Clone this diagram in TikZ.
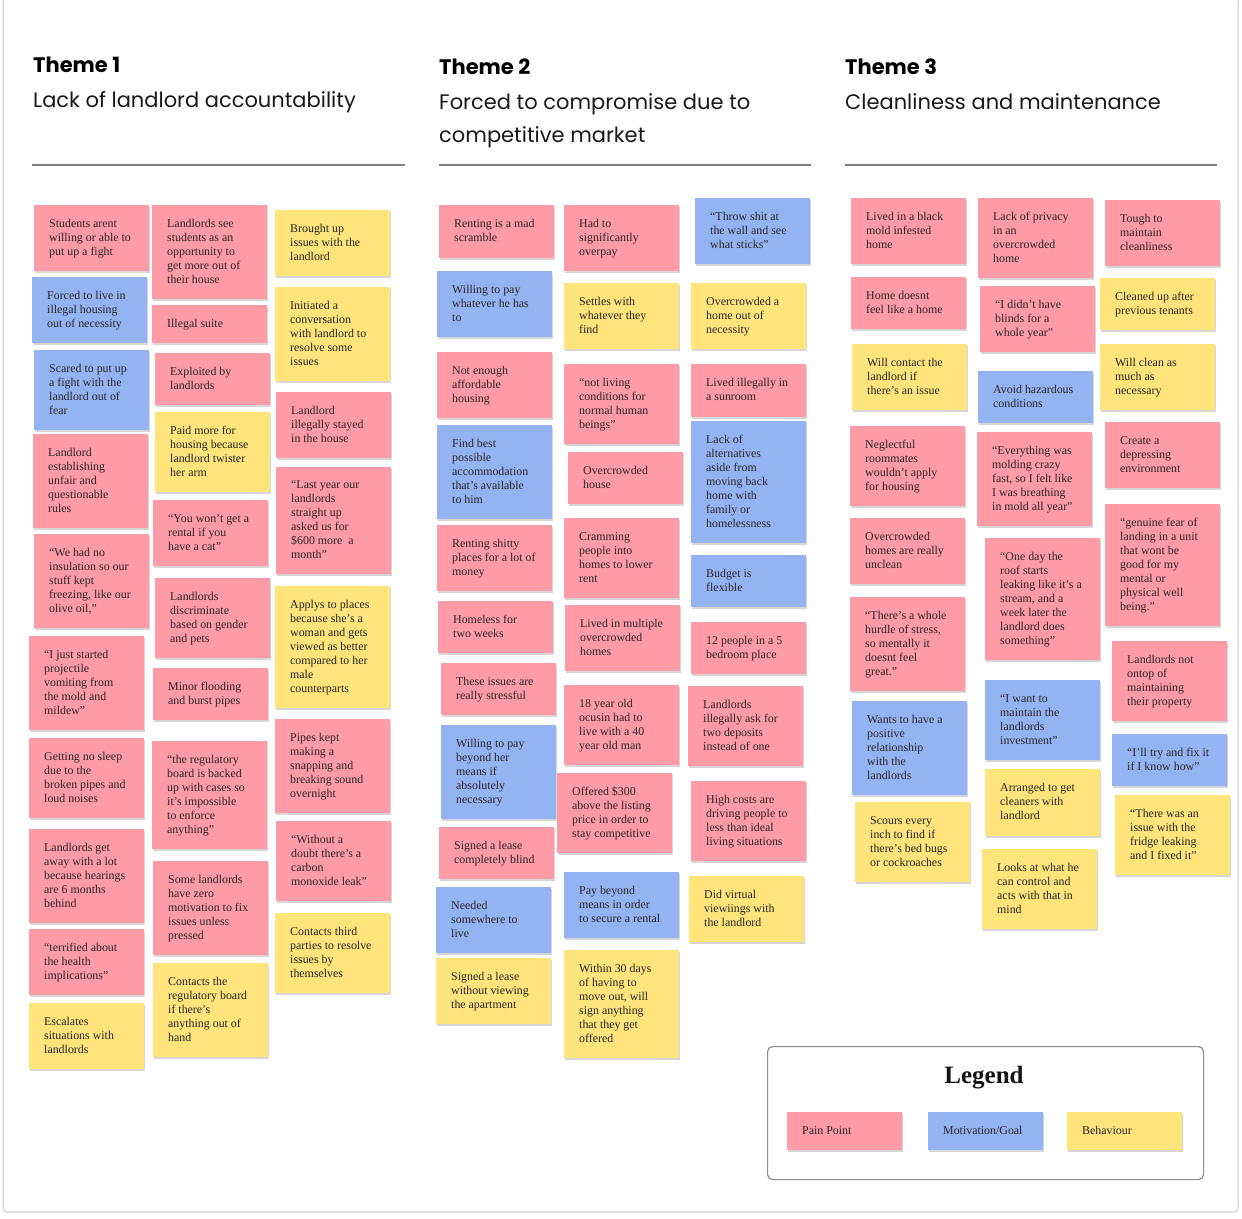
\documentclass[tikz,border=0pt]{standalone}
\usepackage{fontspec}
\setmainfont{Liberation Serif}
\newfontfamily\headfont{Poppins}
\usetikzlibrary{shadows}
\definecolor{pinkn}{HTML}{FF9AA7}
\definecolor{bluen}{HTML}{93B3F3}
\definecolor{yellown}{HTML}{FFE47B}
\definecolor{inkn}{HTML}{262626}
\definecolor{rulen}{HTML}{7F7F7F}
\tikzset{
  notebox/.style={anchor=north west, inner sep=0pt, text=inkn,
    font=\fontsize{11.9}{14}\selectfont,
    drop shadow={shadow xshift=0.6pt, shadow yshift=-1.6pt, fill=black!16, opacity=1}},
  headtitle/.style={anchor=base west, inner sep=0pt, font=\headfont\bfseries\fontsize{21}{24}\selectfont, text=black},
  headsub/.style={anchor=base west, inner sep=0pt, font=\headfont\fontsize{21}{24}\selectfont, text=black!90},
  headrule/.style={draw=rulen, line width=2.2pt},
}
\newcommand\stick[7]{%
  \node[notebox, fill=#2, minimum height={#6pt-#4pt}] (#1) at (#3,#4)
    {\makebox[\dimexpr#5pt-#3pt\relax][l]{\hspace*{15pt}\raisebox{-1pt}{\begin{tabular}{@{}l@{}}#7\end{tabular}}}};}
\begin{document}
\begin{tikzpicture}[x=1pt,y=-1pt]
\useasboundingbox (0,0) rectangle (1242,1218);
\fill[white] (0,0) rectangle (1242,1218);
\draw[black!14, line width=1.5pt, rounded corners=4pt] (3,-4) rectangle (1238,1212);

% headers
\node[headtitle] (t1) at (33,72) {Theme 1};
\node[headsub] (s1) at (33,107) {Lack of landlord accountability};
\node[headtitle] (t2) at (439,74) {Theme 2};
\node[headsub] (s2) at (439,109) {Forced to compromise due to};
\node[headsub] (s2b) at (439,142) {competitive market};
\node[headtitle] (t3) at (845,74) {Theme 3};
\node[headsub] (s3) at (845,109) {Cleanliness and maintenance};
\coordinate (r1a) at (32,165); \coordinate (r1b) at (405,165);
\coordinate (r2a) at (439,165); \coordinate (r2b) at (811,165);
\coordinate (r3a) at (845,165); \coordinate (r3b) at (1217,165);
\draw[headrule] (r1a) -- (r1b);
\draw[headrule] (r2a) -- (r2b);
\draw[headrule] (r3a) -- (r3b);

% Theme 1, column 1
\stick{a1}{pinkn}{34}{205}{149}{271}{Students arent\\willing or able to\\put up a fight}
\stick{a2}{bluen}{32}{277}{147}{343}{Forced to live in\\illegal housing\\out of necessity}
\stick{a3}{bluen}{34}{350}{149}{430}{Scared to put up\\a fight with the\\landlord out of\\fear}
\stick{a4}{pinkn}{33}{434}{148}{528}{Landlord\\establishing\\unfair and\\questionable\\rules}
\stick{a5}{pinkn}{34}{534}{149}{628}{“We had no\\insulation so our\\stuff kept\\freezing, like our\\olive oil,”}
\stick{a6}{pinkn}{29}{636}{144}{730}{“I just started\\projectile\\vomiting from\\the mold and\\mildew”}
\stick{a7}{pinkn}{29}{738}{144}{818}{Getting no sleep\\due to the\\broken pipes and\\loud noises}
\stick{a8}{pinkn}{29}{829}{144}{923}{Landlords get\\away with a lot\\because hearings\\are 6 months\\behind}
\stick{a9}{pinkn}{29}{929}{144}{995}{“terrified about\\the health\\implications”}
\stick{a10}{yellown}{29}{1003}{144}{1069}{Escalates\\situations with\\landlords}
% Theme 1, column 2
\stick{b1}{pinkn}{152}{205}{267}{299}{Landlords see\\students as an\\opportunity to\\get more out of\\their house}
\stick{b2}{pinkn}{152}{305}{267}{343}{Illegal suite}
\stick{b3}{pinkn}{155}{353}{270}{405}{Exploited by\\landlords}
\stick{b4}{yellown}{155}{412}{270}{492}{Paid more for\\housing because\\landlord twister\\her arm}
\stick{b5}{pinkn}{153}{500}{268}{566}{“You won’t get a\\rental if you\\have a cat”}
\stick{b6}{pinkn}{155}{578}{270}{658}{Landlords\\discriminate\\based on gender\\and pets}
\stick{b7}{pinkn}{153}{668}{268}{720}{Minor flooding\\and burst pipes}
\stick{b8}{pinkn}{152}{741}{267}{849}{“the regulatory\\board is backed\\up with cases so\\it’s impossible\\to enforce\\anything”}
\stick{b9}{pinkn}{153}{861}{268}{955}{Some landlords\\have zero\\motivation to fix\\issues unless\\pressed}
\stick{b10}{yellown}{153}{963}{268}{1057}{Contacts the\\regulatory board\\if there’s\\anything out of\\hand}
% Theme 1, column 3
\stick{c1}{yellown}{275}{210}{390}{276}{Brought up\\issues with the\\landlord}
\stick{c2}{yellown}{275}{287}{390}{381}{Initiated a\\conversation\\with landlord to\\resolve some\\issues}
\stick{c3}{pinkn}{276}{392}{391}{458}{Landlord\\illegally stayed\\in the house}
\stick{c4}{pinkn}{276}{467}{391}{574}{“Last year our\\landlords\\straight up\\asked us for\\\$600 more\ \ a\\month”}
\stick{c5}{yellown}{275}{586}{390}{708}{Applys to places\\because she’s a\\woman and gets\\viewed as better\\compared to her\\male\\counterparts}
\stick{c6}{pinkn}{275}{719}{390}{813}{Pipes kept\\making a\\snapping and\\breaking sound\\overnight}
\stick{c7}{pinkn}{276}{821}{391}{901}{“Without a\\doubt there’s a\\carbon\\monoxide leak”}
\stick{c8}{yellown}{275}{913}{390}{993}{Contacts third\\parties to resolve\\issues by\\themselves}

% Theme 2, column 1
\stick{d1}{pinkn}{439}{205}{554}{258}{Renting is a mad\\scramble}
\stick{d2}{bluen}{437}{271}{552}{337}{Willing to pay\\whatever he has\\to}
\stick{d3}{pinkn}{437}{352}{552}{418}{Not enough\\affordable\\housing}
\stick{d4}{bluen}{437}{425}{552}{519}{Find best\\possible\\accommodation\\that’s available\\to him}
\stick{d5}{pinkn}{437}{525}{552}{591}{Renting shitty\\places for a lot of\\money}
\stick{d6}{pinkn}{438}{601}{553}{653}{Homeless for\\two weeks}
\stick{d7}{pinkn}{441}{663}{556}{715}{These issues are\\really stressful}
\stick{d8}{bluen}{441}{725}{556}{819}{Willing to pay\\beyond her\\means if\\absolutely\\necessary}
\stick{d9}{pinkn}{439}{827}{554}{879}{Signed a lease\\completely blind}
\stick{d10}{bluen}{436}{887}{551}{953}{Needed\\somewhere to\\live}
\stick{d11}{yellown}{436}{958}{551}{1024}{Signed a lease\\without viewing\\the apartment}
% Theme 2, column 2
\stick{e1}{pinkn}{564}{205}{679}{271}{Had to\\significantly\\overpay}
\stick{e2}{yellown}{564}{283}{679}{349}{Settles with\\whatever they\\find}
\stick{e3}{pinkn}{564}{364}{679}{444}{“not living\\conditions for\\normal human\\beings”}
\stick{e4}{pinkn}{568}{452}{683}{504}{Overcrowded\\house}
\stick{e5}{pinkn}{564}{518}{679}{598}{Cramming\\people into\\homes to lower\\rent}
\stick{e6}{pinkn}{565}{605}{680}{671}{Lived in multiple\\overcrowded\\homes}
\stick{e7}{pinkn}{564}{685}{679}{765}{18 year old\\ocusin had to\\live with a 40\\year old man}
\stick{e8}{pinkn}{557}{773}{672}{853}{Offered \$300\\above the listing\\price in order to\\stay competitive}
\stick{e9}{bluen}{564}{872}{679}{938}{Pay beyond\\means in order\\to secure a rental}
\stick{e10}{yellown}{564}{950}{679}{1058}{Within 30 days\\of having to\\move out, will\\sign anything\\that they get\\offered}
% Theme 2, column 3
\stick{f1}{bluen}{695}{198}{810}{264}{“Throw shit at\\the wall and see\\what sticks”}
\stick{f2}{yellown}{691}{283}{806}{349}{Overcrowded a\\home out of\\necessity}
\stick{f3}{pinkn}{691}{364}{806}{417}{Lived illegally in\\a sunroom}
\stick{f4}{bluen}{691}{421}{806}{543}{Lack of\\alternatives\\aside from\\moving back\\home with\\family or\\homelessness}
\stick{f5}{bluen}{691}{555}{806}{607}{Budget is\\flexible}
\stick{f6}{pinkn}{691}{622}{806}{674}{12 people in a 5\\bedroom place}
\stick{f7}{pinkn}{688}{686}{803}{766}{Landlords\\illegally ask for\\two deposits\\instead of one}
\stick{f8}{pinkn}{691}{781}{806}{861}{High costs are\\driving people to\\less than ideal\\living situations}
\stick{f9}{yellown}{689}{876}{804}{942}{Did virtual\\viewiings with\\the landlord}

% Theme 3, column 1
\stick{g1}{pinkn}{851}{198}{966}{264}{Lived in a black\\mold infested\\home}
\stick{g2}{pinkn}{851}{277}{966}{329}{Home doesnt\\feel like a home}
\stick{g3}{yellown}{852}{344}{967}{410}{Will contact the\\landlord if\\there’s an issue}
\stick{g4}{pinkn}{850}{426}{965}{506}{Neglectful\\roommates\\wouldn’t apply\\for housing}
\stick{g5}{pinkn}{850}{518}{965}{584}{Overcrowded\\homes are really\\unclean}
\stick{g6}{pinkn}{850}{597}{965}{691}{“There’s a whole\\hurdle of stress,\\so mentally it\\doesnt feel\\great.”}
\stick{g7}{bluen}{852}{701}{967}{795}{Wants to have a\\positive\\relationship\\with the\\landlords}
\stick{g8}{yellown}{855}{802}{970}{882}{Scours every\\inch to find if\\there’s bed bugs\\or cockroaches}
% Theme 3, column 2
\stick{h1}{pinkn}{978}{198}{1093}{278}{Lack of privacy\\in an\\overcrowded\\home}
\stick{h2}{pinkn}{980}{286}{1095}{352}{“I didn’t have\\blinds for a\\whole year”}
\stick{h3}{bluen}{978}{371}{1093}{423}{Avoid hazardous\\conditions}
\stick{h4}{pinkn}{977}{432}{1092}{526}{“Everything was\\molding crazy\\fast, so I felt like\\I was breathing\\in mold all year”}
\stick{h5}{pinkn}{985}{538}{1100}{660}{“One day the\\roof starts\\leaking like it’s a\\stream, and a\\week later the\\landlord does\\something”}
\stick{h6}{bluen}{985}{680}{1100}{760}{“I want to\\maintain the\\landlords\\investment”}
\stick{h7}{yellown}{985}{769}{1100}{836}{Arranged to get\\cleaners with\\landlord}
\stick{h8}{yellown}{982}{849}{1097}{929}{Looks at what he\\can control and\\acts with that in\\mind}
% Theme 3, column 3
\stick{i1}{pinkn}{1105}{200}{1220}{266}{Tough to\\maintain\\cleanliness}
\stick{i2}{yellown}{1100}{278}{1215}{330}{Cleaned up after\\previous tenants}
\stick{i3}{yellown}{1100}{344}{1215}{410}{Will clean as\\much as\\necessary}
\stick{i4}{pinkn}{1105}{422}{1220}{488}{Create a\\depressing\\environment}
\stick{i5}{pinkn}{1105}{504}{1220}{626}{“genuine fear of\\landing in a unit\\that wont be\\good for my\\mental or\\physical well\\being.”}
\stick{i6}{pinkn}{1112}{641}{1227}{721}{Landlords not\\ontop of\\maintaining\\their property}
\stick{i7}{bluen}{1112}{734}{1227}{786}{“I’ll try and fix it\\if I know how”}
\stick{i8}{yellown}{1115}{795}{1230}{875}{“There was an\\issue with the\\fridge leaking\\and I fixed it”}

% Legend
\node[draw=black!45, line width=1.2pt, rounded corners=5pt, anchor=north west,
  minimum width=436pt, minimum height=133pt, inner sep=0pt] (legend) at (767,1046) {};
\node[font=\bfseries\fontsize{25}{28}\selectfont, text=black!92] (legtitle) at (984,1078) {Legend};
\stick{lp}{pinkn}{787}{1112}{902}{1150}{Pain Point}
\stick{lm}{bluen}{928}{1112}{1043}{1150}{Motivation/Goal}
\stick{lb}{yellown}{1067}{1112}{1182}{1150}{Behaviour}
\end{tikzpicture}
\end{document}
